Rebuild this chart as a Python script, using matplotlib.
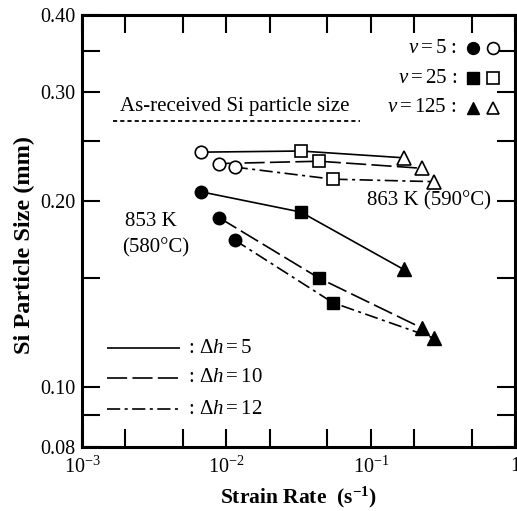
import numpy as np
import matplotlib
matplotlib.use('Agg')
import matplotlib.pyplot as plt
from matplotlib.ticker import FixedLocator, NullFormatter

plt.rcParams['font.family'] = ['Liberation Serif', 'DejaVu Serif']
plt.rcParams['mathtext.fontset'] = 'custom'
plt.rcParams['mathtext.rm'] = 'Liberation Serif'
plt.rcParams['mathtext.it'] = 'Liberation Serif:italic'
plt.rcParams['mathtext.bf'] = 'Liberation Serif:bold'
plt.rcParams['lines.scale_dashes'] = False

# strain rate (s^-1) for v = 5, 25, 125, one list per delta h
rate_dh5 = [0.0067, 0.0327, 0.169]
rate_dh10 = [0.0089, 0.0440, 0.226]
rate_dh12 = [0.0114, 0.0545, 0.274]

# Si particle size (mm) at 853 K (filled markers)
size853_dh5 = [0.207, 0.192, 0.155]
size853_dh10 = [0.188, 0.150, 0.1246]
size853_dh12 = [0.173, 0.137, 0.120]

# Si particle size (mm) at 863 K (open markers)
size863_dh5 = [0.240, 0.241, 0.235]
size863_dh10 = [0.230, 0.232, 0.226]
size863_dh12 = [0.227, 0.217, 0.215]

as_received = 0.270
as_received_range = [0.00164, 0.0838]

v_labels = ['5', '25', '125']
markers = ['o', 's', '^']
msizes = [9, 8.5, 9.5]

dh_labels = ['5', '10', '12']
dash_styles = [(0, ()), (0, (14.5, 3.8)), (0, (9.5, 3.2, 2.2, 3.2))]

rates = [rate_dh5, rate_dh10, rate_dh12]
s853 = [size853_dh5, size853_dh10, size853_dh12]
s863 = [size863_dh5, size863_dh10, size863_dh12]

fig = plt.figure(figsize=(5.17, 5.11), dpi=100)
ax = fig.add_axes([0.1586, 0.1252, 0.838, 0.8454])
ax.set_xscale('log')
ax.set_yscale('log')
ax.set_xlim(1e-3, 1)
ax.set_ylim(0.08, 0.40)

lw = 1.2
for r, a, b, ls in zip(rates, s853, s863, dash_styles):
    ax.plot(r, a, color='black', lw=lw, linestyle=ls, zorder=2)
    ax.plot(r, b, color='black', lw=lw, linestyle=ls, zorder=2)
    for i in range(3):
        ax.plot(r[i], a[i], marker=markers[i], ms=msizes[i], mfc='black',
                mec='black', mew=1.0, zorder=3)
        ax.plot(r[i], b[i], marker=markers[i], ms=msizes[i], mfc='white',
                mec='black', mew=1.2, zorder=3)

# as-received reference
ax.plot(as_received_range, [as_received, as_received], color='black',
        lw=1.3, linestyle=(0, (3.0, 2.2)))
ax.text(np.sqrt(as_received_range[0] * as_received_range[1]) * 0.98, 0.2845,
        'As-received Si particle size', fontsize=15, ha='center', va='center')

ax.text(0.002, 0.1855, '853 K', fontsize=15, ha='left', va='center')
ax.text(0.0019, 0.168, '(580°C)', fontsize=15, ha='left', va='center')
ax.text(0.094, 0.2005, '863 K (590°C)', fontsize=15, ha='left', va='center')

# marker legend (top right)
leg_y = [0.9236, 0.854, 0.785]
for k in range(3):
    ax.text(0.866, leg_y[k], r'$v = ' + v_labels[k] + r'$ :', transform=ax.transAxes,
            fontsize=15, ha='right', va='center')
    ax.plot([0.903], [leg_y[k]], marker=markers[k], ms=msizes[k] * 0.95, mfc='black',
            mec='black', transform=ax.transAxes, clip_on=False)
    ax.plot([0.949], [leg_y[k]], marker=markers[k], ms=msizes[k] * 0.95, mfc='white',
            mec='black', mew=1.2, transform=ax.transAxes, clip_on=False)

# line style legend (bottom left)
ls_y = [0.229, 0.160, 0.088]
for k in range(3):
    ax.plot([0.058, 0.226], [ls_y[k], ls_y[k]], color='black', lw=lw,
            linestyle=dash_styles[k], transform=ax.transAxes)
    ax.text(0.245, ls_y[k], r': $\Delta h = ' + dh_labels[k] + '$', transform=ax.transAxes,
            fontsize=15, ha='left', va='center')

# ticks
ax.xaxis.set_major_locator(FixedLocator([1e-3, 1e-2, 1e-1, 1]))
ax.xaxis.set_minor_locator(FixedLocator([2e-3, 5e-3, 2e-2, 5e-2, 2e-1, 5e-1]))
ax.xaxis.set_minor_formatter(NullFormatter())
ax.set_xticklabels(['10$^{-3}$', '10$^{-2}$', '10$^{-1}$', '1'])

ax.yaxis.set_major_locator(FixedLocator([0.08, 0.10, 0.20, 0.30, 0.40]))
ax.yaxis.set_minor_locator(FixedLocator([0.09, 0.15, 0.25, 0.35]))
ax.yaxis.set_minor_formatter(NullFormatter())
ax.set_yticklabels(['0.08', '0.10', '0.20', '0.30', '0.40'])

ax.tick_params(which='both', direction='in', top=True, right=True,
               labelsize=14.5, width=1.5, pad=5)
ax.tick_params(which='major', length=13)
ax.tick_params(which='minor', length=13)
ax.tick_params(axis='x', which='major', pad=7)

for s in ax.spines.values():
    s.set_linewidth(2.2)

ax.set_xlabel('Strain Rate  (s$^{\\mathbf{-1}}$)', fontsize=15.5, fontweight='bold', labelpad=5)
ax.set_ylabel('Si Particle Size (mm)', fontsize=17.5, fontweight='bold')
ax.yaxis.set_label_coords(-0.109, 0.468)

fig.savefig('out.png', dpi=100)
